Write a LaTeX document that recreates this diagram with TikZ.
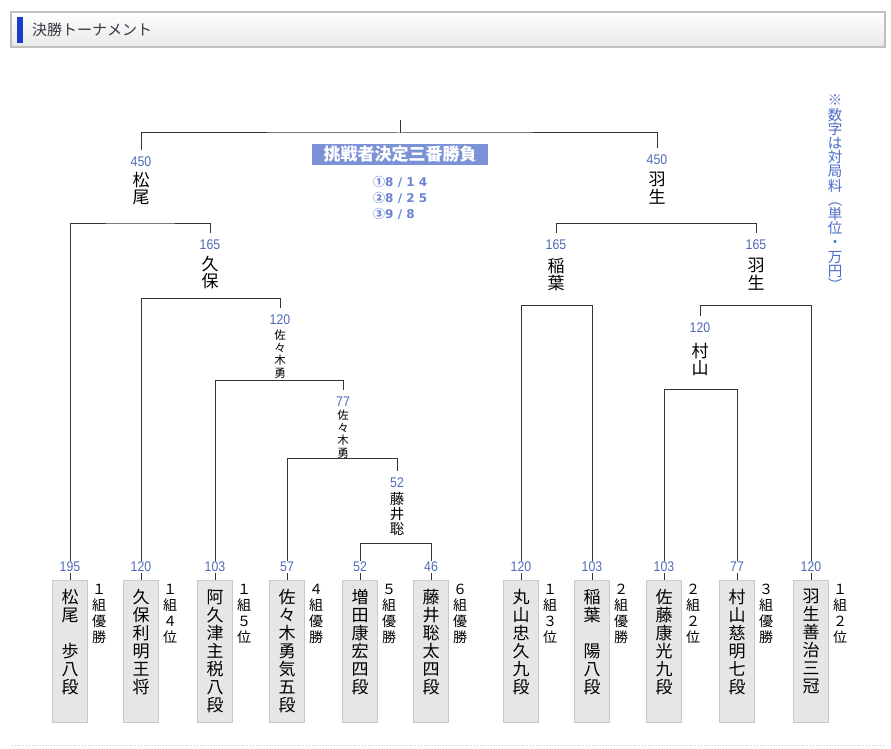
\documentclass[tikz,border=0pt]{standalone}
\usepackage{fontspec}
\setmainfont{Noto Sans CJK JP}
\newfontfamily\numfont[FakeStretch=0.88]{Liberation Sans}
\newfontfamily\datefont[LetterSpace=35]{DejaVu Sans}
\usetikzlibrary{backgrounds}
\definecolor{feeblue}{HTML}{4F6BB8}
\definecolor{dateblue}{HTML}{6A83D4}
\definecolor{noteblue}{HTML}{4A6BC9}
\definecolor{boxgray}{HTML}{E6E6E6}
\definecolor{boxline}{HTML}{C8C8C8}
\definecolor{titleblue}{HTML}{7C92D6}
\definecolor{barblue}{HTML}{1A3CC8}
\definecolor{headtext}{HTML}{3A3444}
\newcommand\tate[1]{\parbox[t][124pt][t]{35pt}{\centering #1}}

\begin{document}
\begin{tikzpicture}[x=1pt,y=-1pt,
  link/.style={draw=black!80,line width=1pt},
  fee/.style={font=\numfont\fontsize{14}{14}\selectfont,text=feeblue,fill=white,inner xsep=1pt,inner ysep=1.5pt},
  pbox/.style={anchor=north,fill=boxgray,draw=boxline,line width=0.8pt,inner xsep=0pt,inner ysep=9pt,font=\fontsize{17}{18}\selectfont},
  rank/.style={anchor=north,inner sep=0pt,align=center,font=\fontsize{14}{16}\selectfont},
  wname/.style={anchor=north,inner sep=0pt,align=center,font=\fontsize{17}{17.5}\selectfont},
  wsmall/.style={wname,font=\fontsize{11.5}{12.5}\selectfont}]
  \useasboundingbox (0,0) rectangle (891,749);

  % header bar
  \shade[top color=white,bottom color=black!9] (11,12) rectangle (885,47);
  \draw[black!25,line width=1.2pt] (11,12) rectangle (885,47);
  \fill[barblue] (17,17) rectangle (23,43);
  \node[anchor=west,inner sep=0pt,text=headtext,font=\fontsize{15}{15}\selectfont] (head) at (32,30) {決勝トーナメント};

  % players
  \foreach \n/\x/\pay/\name/\rk in {
    p1/70/195/{松\\尾\\　\\歩\\八\\段}/{１\\組\\優\\勝},
    p2/141/120/{久\\保\\利\\明\\王\\将}/{１\\組\\４\\位},
    p3/215/103/{阿\\久\\津\\主\\税\\八\\段}/{１\\組\\５\\位},
    p4/287/57/{佐\\々\\木\\勇\\気\\五\\段}/{４\\組\\優\\勝},
    p5/360/52/{増\\田\\康\\宏\\四\\段}/{５\\組\\優\\勝},
    p6/431/46/{藤\\井\\聡\\太\\四\\段}/{６\\組\\優\\勝},
    p7/521/120/{丸\\山\\忠\\久\\九\\段}/{１\\組\\３\\位},
    p8/592/103/{稲\\葉\\　\\陽\\八\\段}/{２\\組\\優\\勝},
    p9/664/103/{佐\\藤\\康\\光\\九\\段}/{２\\組\\２\\位},
    p10/737/77/{村\\山\\慈\\明\\七\\段}/{３\\組\\優\\勝},
    p11/811/120/{羽\\生\\善\\治\\三\\冠}/{１\\組\\２\\位}}{
    \node[pbox] (\n) at (\x,580) {\tate{\name}};
    \node[fee] (f\n) at (\x,567) {\pay};
    \node[rank] (r\n) at (\x+29,584) {\rk};
  }

  % winners
  \node[fee] (w1) at (141,162) {450};
  \node[wname] (w1n) at (141,172) {松\\尾};
  \node[fee] (w2) at (210,245) {165};
  \node[wname] (w2n) at (210,256) {久\\保};
  \node[fee] (w3) at (280,320) {120};
  \node[wsmall] (w3n) at (280,330) {佐\\々\\木\\勇};
  \node[fee] (w4) at (343,402) {77};
  \node[wsmall] (w4n) at (343,410) {佐\\々\\木\\勇};
  \node[fee] (w5) at (397,483) {52};
  \node[wname,font=\fontsize{14.5}{15}\selectfont] (w5n) at (397,492) {藤\\井\\聡};
  \node[fee] (w6) at (556,245) {165};
  \node[wname] (w6n) at (556,258) {稲\\葉};
  \node[fee] (w7) at (700,328) {120};
  \node[wname] (w7n) at (700,343) {村\\山};
  \node[fee] (w8) at (756,245) {165};
  \node[wname] (w8n) at (756,258) {羽\\生};
  \node[fee] (w9) at (657,160) {450};
  \node[wname] (w9n) at (657,172) {羽\\生};

  % final
  \node[fill=titleblue,text=white,inner sep=0pt,minimum width=176pt,minimum height=21pt,font=\bfseries\fontsize{17}{17}\selectfont] (title) at (400,154.5) {挑戦者決定三番勝負};
  \node[anchor=west,align=left,inner sep=0pt,text=dateblue,font=\bfseries\fontsize{12}{16}\selectfont] (dates) at (373,198) {①{\datefont 8/14}\\②{\datefont 8/25}\\③{\datefont 9/8}};
  \node[anchor=north,align=center,inner sep=0pt,text=noteblue,font=\fontsize{14.5}{14.2}\selectfont] (note) at (835,95) {※\\数\\字\\は\\対\\局\\料\\︵\\単\\位\\・\\万\\円\\︶};

  \coordinate (j0) at (400,133);
  \coordinate (top) at (400,120);
  \coordinate (j1) at (140,223);
  \coordinate (j2) at (141,298);
  \coordinate (j3) at (215,380);
  \coordinate (j4) at (287,458);
  \coordinate (j5) at (360,543);
  \coordinate (j6) at (556,223);
  \coordinate (j7) at (521,305);
  \coordinate (j8) at (700,305);
  \coordinate (j9) at (664,389);

  \begin{scope}[on background layer]
    \draw[link] (j0) -- (top);
    \draw[link,shorten <=5pt,shorten >=5pt] (w1.north) |- (j0) -| (w9.north);
    \draw[link,shorten >=5pt] (p1.north) |- (j1) -| (w2.north);
    \draw[link,shorten >=5pt] (p2.north) |- (j2) -| (w3.north);
    \draw[link,shorten >=5pt] (p3.north) |- (j3) -| (w4.north);
    \draw[link,shorten >=5pt] (p4.north) |- (j4) -| (w5.north);
    \draw[link] (p5.north) |- (j5) -| (p6.north);
    \draw[link,shorten <=5pt,shorten >=5pt] (w6.north) |- (j6) -| (w8.north);
    \draw[link] (p7.north) |- (j7) -| (p8.north);
    \draw[link,shorten >=5pt] (p11.north) |- (j8) -| (w7.north);
    \draw[link] (p9.north) |- (j9) -| (p10.north);
  \end{scope}

  \draw[boxline,dotted,line width=0.8pt] (12,745) -- (884,745);
\end{tikzpicture}
\end{document}
